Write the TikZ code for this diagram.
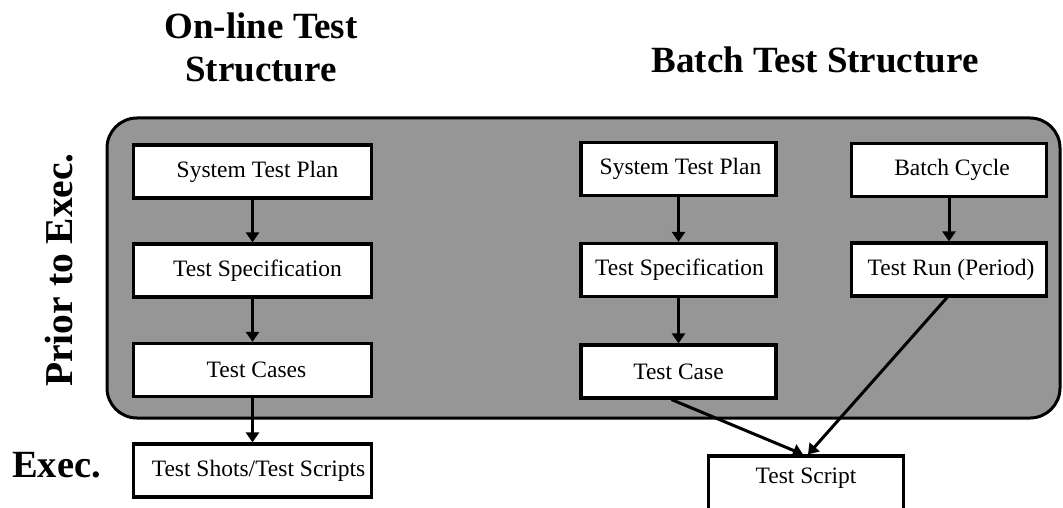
\documentclass[tikz,border=0pt]{standalone}
\usepackage{fontspec}
\setmainfont{Liberation Serif}
\usetikzlibrary{arrows.meta}
\definecolor{panel}{RGB}{150,150,150}
\tikzset{
  stagebox/.style={draw, fill=white, line width=3.2pt, inner sep=0pt,
    minimum height=53pt, font=\fontsize{23.5}{26}\selectfont},
  wide/.style={minimum width=238pt},
  narrow/.style={minimum width=195pt},
  flow/.style={line width=3pt, -{Triangle[length=10pt,width=13pt]}},
  heading/.style={font=\fontsize{37}{43}\selectfont\bfseries, inner sep=0pt, align=center}
}
\begin{document}
\begin{tikzpicture}[x=1pt, y=-1pt]
\useasboundingbox (0,0) rectangle (1063,508);
\clip (0,0) rectangle (1063,508);

% headings
\node[heading] (hon) at (261,47) {On-line Test\\Structure};
\node[heading, anchor=base] (hbatch) at (815,73) {Batch Test Structure};
\node[heading, anchor=base, rotate=90, font=\fontsize{39.5}{45}\selectfont\bfseries] (hprior) at (72,270) {Prior to Exec.};
\node[heading, anchor=base west, font=\fontsize{38.5}{44}\selectfont\bfseries] (hexec) at (12,477) {Exec.};

% grey panel for the stages before execution
\draw[fill=panel, line width=3pt, rounded corners=30pt] (107,118) rectangle (1060,418);

% on-line column
\node[stagebox, wide] (ostp) at (252.5,171.5) {\hspace{10pt}System Test Plan};
\node[stagebox, wide] (ospec) at (252.5,270.5) {\hspace{10pt}Test Specification};
\node[stagebox, wide] (ocases) at (252.5,370) {\hspace{8pt}Test Cases};
\node[stagebox, wide] (oshots) at (252.5,470.5) {\hspace{12pt}Test Shots/Test Scripts};

% batch column
\node[stagebox, narrow] (bstp) at (678.5,169) {\hspace{4pt}System Test Plan};
\node[stagebox, narrow] (bspec) at (678.5,270) {\hspace{2pt}Test Specification};
\node[stagebox, narrow] (bcase) at (678.5,371.5) {Test Case};
\node[stagebox, narrow] (bcycle) at (949,170) {\hspace{6pt}Batch Cycle};
\node[stagebox, narrow] (brun) at (949,269.5) {\hspace{4pt}Test Run (Period)};
\node[stagebox, narrow, minimum height=56pt, text depth=16pt] (bscript) at (806,484) {Test Script};

% connectors
\draw[flow] (ostp) -- (ospec);
\draw[flow] (ospec) -- (ocases);
\draw[flow] (ocases) -- (oshots);
\draw[flow] (bstp) -- (bspec);
\draw[flow] (bspec) -- (bcase);
\draw[flow] (bcycle) -- (brun);
\draw[flow] ([xshift=-7pt]bcase.south) -- ([xshift=-3pt]bscript.north);
\draw[flow] ([xshift=-2pt]brun.south) -- ([xshift=2pt]bscript.north);
\end{tikzpicture}
\end{document}
